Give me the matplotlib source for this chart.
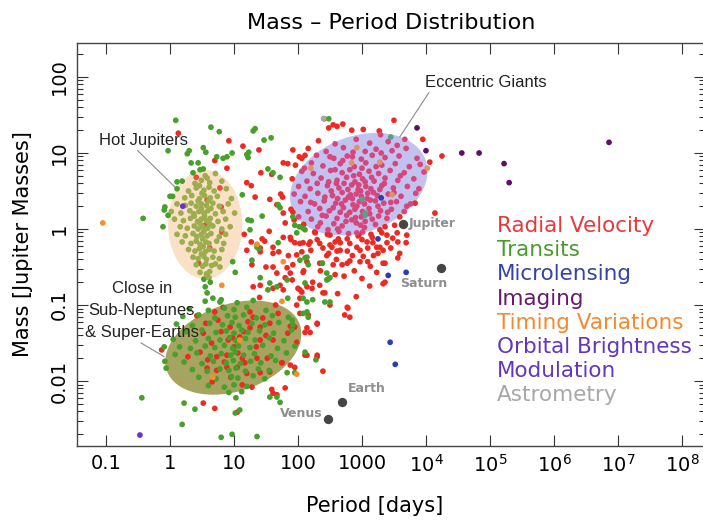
import numpy as np
import matplotlib
matplotlib.use("Agg")
import matplotlib.pyplot as plt
from matplotlib.patches import Ellipse
from matplotlib.transforms import IdentityTransform

plt.rcParams['font.family'] = ['DejaVu Sans']

# every point is (log10 period [days], log10 mass [Jupiter masses])
radial_velocity = [
    # eccentric giants and surroundings
    (2.41, 1.45), (2.48, 1.33), (2.55, 1.37), (2.61, 1.35), (2.70, 1.38), (2.84, 1.30), (3.02, 1.31),
    (3.27, 1.29), (3.29, 1.24), (3.50, 1.43), (3.67, 1.18), (3.95, 1.18), (4.25, 0.96), (4.06, 0.88),
    (3.83, 0.34), (4.14, 0.21), (1.92, 1.04), (2.11, 0.97), (2.06, 0.93), (1.77, 0.87), (1.84, 0.86),
    (1.56, 0.39), (1.73, 0.46), (1.76, 0.42),
    (2.32, 1.16), (2.58, 1.12), (2.91, 1.18), (3.12, 1.13), (3.41, 1.15),
    (2.16, 1.06), (2.44, 1.02), (2.71, 1.07), (2.86, 1.01), (3.22, 1.05), (3.47, 1.03), (3.69, 1.06),
    (2.02, 0.95), (2.29, 0.97), (2.56, 0.93), (2.77, 0.96), (2.99, 0.92), (3.16, 0.97), (3.36, 0.94),
    (3.58, 0.96), (3.86, 0.93),
    (1.96, 0.84), (2.21, 0.87), (2.39, 0.83), (2.66, 0.86), (2.88, 0.82), (3.06, 0.87), (3.31, 0.84),
    (3.52, 0.86), (3.74, 0.82), (3.91, 0.85),
    (2.06, 0.76), (2.24, 0.73), (2.51, 0.77), (2.69, 0.74), (2.81, 0.78), (2.96, 0.72), (3.11, 0.76),
    (3.26, 0.73), (3.44, 0.77), (3.66, 0.74), (3.97, 0.75),
    (1.91, 0.66), (2.14, 0.63), (2.36, 0.67), (2.61, 0.64), (2.76, 0.68), (2.89, 0.62), (3.01, 0.66),
    (3.19, 0.63), (3.36, 0.67), (3.56, 0.64), (3.81, 0.66),
    (2.01, 0.56), (2.19, 0.53), (2.46, 0.57), (2.64, 0.54), (2.84, 0.58), (2.94, 0.52), (3.06, 0.56),
    (3.14, 0.53), (3.31, 0.57), (3.49, 0.54), (3.71, 0.56), (3.89, 0.53),
    (1.94, 0.46), (2.11, 0.43), (2.31, 0.47), (2.54, 0.44), (2.69, 0.48), (2.79, 0.42), (2.91, 0.46),
    (2.99, 0.43), (3.09, 0.47), (3.24, 0.44), (3.41, 0.46), (3.61, 0.43), (3.84, 0.47),
    (2.04, 0.36), (2.26, 0.33), (2.41, 0.37), (2.59, 0.34), (2.74, 0.38), (2.86, 0.32), (2.96, 0.36),
    (3.04, 0.33), (3.21, 0.37), (3.34, 0.34), (3.54, 0.36), (3.76, 0.33),
    (1.89, 0.26), (2.16, 0.23), (2.34, 0.27), (2.49, 0.24), (2.71, 0.28), (2.81, 0.22), (2.89, 0.26),
    (3.01, 0.23), (3.11, 0.27), (3.29, 0.24), (3.46, 0.26), (3.66, 0.23),
    (2.01, 0.16), (2.21, 0.13), (2.44, 0.17), (2.61, 0.14), (2.76, 0.18), (2.84, 0.12), (2.99, 0.16),
    (3.16, 0.13), (3.26, 0.17), (3.39, 0.14), (3.59, 0.16),
    (2.09, 0.06), (2.31, 0.03), (2.56, 0.07), (2.69, 0.04), (2.91, 0.08), (3.04, 0.02), (3.21, 0.06),
    (3.36, 0.03), (3.51, 0.05),
    (2.26, -0.04), (2.46, -0.07), (2.64, -0.03), (2.79, -0.06), (3.01, -0.04), (3.14, -0.07), (3.31, -0.05),
    (2.85, 0.40), (2.92, 0.30), (3.08, 0.40), (2.78, 0.52), (3.18, 0.48), (2.72, 0.60), (3.05, 0.62),
    (2.95, 0.58), (2.62, 0.40), (2.66, 0.22), (3.12, 0.20), (2.52, 0.50), (3.28, 0.52), (2.87, 0.70),
    (2.58, 0.78), (3.22, 0.82), (2.48, 0.62), (2.38, 0.18), (2.98, 0.05), (3.45, 0.35),
    (2.55, 0.28), (2.68, 0.33), (2.82, 0.45), (2.98, 0.50), (3.13, 0.38), (3.25, 0.30), (2.90, 0.15),
    (3.05, 0.10), (2.75, 0.10), (2.60, 0.60), (2.70, 0.90), (3.00, 0.80), (3.15, 0.68), (3.35, 0.60),
    (3.50, 0.48), (3.40, 0.22), (2.42, 0.42), (2.30, 0.60), (2.20, 0.35), (2.35, 0.08), (3.60, 0.70),
    (3.70, 0.30), (2.85, 0.95), (3.05, 1.02), (2.50, 0.95), (3.30, 1.00), (3.55, 1.10), (2.10, 0.80),
    (2.62, 0.00), (2.95, -0.08),
    # warm giants and sub-Saturns
    (1.80, 0.08), (1.88, -0.11), (1.77, -0.11), (2.08, -0.18), (2.19, -0.17), (2.27, -0.05), (2.50, -0.08),
    (2.58, -0.17), (2.53, -0.24), (2.66, -0.28), (2.48, -0.32), (2.66, -0.18), (2.94, -0.09), (3.00, -0.14),
    (3.08, -0.17), (2.92, -0.24), (2.97, -0.28), (3.09, -0.25), (3.28, -0.01), (3.39, -0.08), (3.55, -0.05),
    (3.70, -0.08), (3.69, -0.18), (3.56, -0.17), (3.39, -0.18), (3.23, -0.24), (3.33, -0.28), (3.25, -0.32),
    (3.59, -0.32), (3.56, -0.38), (1.98, -0.34), (2.14, -0.43), (2.38, -0.45), (2.55, -0.47), (2.69, -0.47),
    (2.77, -0.45), (2.81, -0.42), (2.97, -0.43), (3.09, -0.43), (3.13, -0.49), (3.36, -0.45), (3.23, -0.57),
    (3.36, -0.70), (2.09, -0.55), (1.83, -0.51), (1.88, -0.58), (1.80, -0.64), (2.00, -0.78), (2.22, -0.78),
    (2.34, -0.74), (2.39, -0.84), (2.06, -0.83), (2.47, -0.66), (2.91, -0.89), (2.78, -1.04), (2.73, -1.13),
    (2.81, -1.16), (2.30, -1.25), (2.11, -1.36), (2.19, -1.36), (1.95, -1.29), (1.88, -1.28), (1.98, -1.49),
    (2.11, -1.66), (2.30, -1.66), (2.39, -1.87), (1.80, -2.09), (1.75, -1.76), (1.95, -1.82),
    (0.13, 1.26), (0.92, 1.16), (1.14, 1.09), (1.39, 1.04), (0.89, 0.80), (1.42, 0.74), (1.59, 0.72),
    (1.20, 0.61), (1.27, 0.57), (1.33, 0.42), (1.67, 0.32), (1.77, 0.21), (1.92, 0.22), (1.94, 0.12),
    (1.55, -0.03), (1.16, -0.07), (1.27, -0.17), (1.44, -0.13), (1.48, -0.16), (1.89, -0.14), (2.03, -0.19),
    (2.17, -0.20), (2.30, -0.14), (2.34, -0.19), (2.47, -0.01), (2.63, -0.13), (2.77, -0.13), (2.92, -0.05),
    (3.16, -0.11), (3.17, -0.18), (2.61, -0.29), (2.77, -0.29), (2.39, -0.25), (2.06, -0.30), (1.61, -0.32),
    (1.20, -0.28), (1.41, -0.30), (1.41, -0.25), (1.61, -0.24), (1.95, -0.18), (2.50, -0.21), (2.81, -0.19),
    (3.28, -0.24), (1.28, -0.47), (1.61, -0.50), (1.67, -0.58), (1.92, -0.47), (2.08, -0.57), (2.34, -0.45),
    (3.33, -0.45), (3.33, -0.72), (1.30, -0.76), (1.41, -0.74), (1.61, -0.78), (1.72, -0.74), (1.77, -0.80),
    (1.91, -0.67), (2.03, -0.80), (2.14, -0.76), (2.23, -0.70), (2.03, -0.91), (2.42, -0.84), (2.77, -1.03),
    (2.16, -1.13), (2.03, -1.11), (2.30, -1.24), (2.14, -1.30), (1.84, -1.37), (2.14, -1.66), (2.30, -1.68),
    (1.88, -1.79), (1.56, -1.88),
    (2.45, -0.35), (2.60, -0.40), (2.85, -0.35), (3.02, -0.36), (3.18, -0.35), (3.45, -0.25), (3.48, -0.12),
    (2.20, -0.28), (2.35, -0.55), (2.58, -0.60), (2.72, -0.62), (2.88, -0.55), (3.00, -0.65), (3.12, -0.75),
    (2.62, -0.85), (2.50, -1.00), (1.70, -0.30), (1.85, -0.35), (1.50, -0.50), (1.40, -0.90), (1.65, -1.00),
    (1.98, -1.00),
    # hot Jupiters
    (0.41, 0.68), (0.78, 0.54), (0.80, 0.29), (0.81, -0.04), (0.58, 0.38), (0.55, 0.05), (0.62, -0.25),
    (0.45, -0.45), (0.70, 0.90),
    # sub-Neptunes and super-Earths
    (0.42, -1.14), (0.56, -1.24), (0.52, -1.37), (0.70, -1.09), (0.83, -1.03), (1.25, -1.09), (1.22, -1.22),
    (1.25, -1.30), (1.30, -1.16), (0.94, -1.29), (0.91, -1.46), (0.98, -1.43), (1.09, -1.42), (1.41, -1.29),
    (1.45, -1.17), (1.56, -1.24), (1.69, -1.11), (1.61, -1.46), (1.41, -1.46), (0.47, -1.62), (0.28, -1.68),
    (0.59, -1.72), (0.73, -1.68), (0.89, -1.66), (1.06, -1.63), (1.13, -1.70), (1.17, -1.76), (1.36, -1.70),
    (1.52, -1.70), (0.89, -1.82), (1.05, -1.82), (0.73, -1.86), (0.58, -1.83), (0.66, -2.01), (1.28, -2.08),
    (1.41, -1.89), (1.75, -1.76), (-0.13, -1.59), (0.80, -1.35), (1.00, -1.55), (0.65, -1.50), (1.15, -1.35),
    (0.85, -1.75), (1.35, -1.55), (0.95, -1.95), (1.20, -1.90), (0.75, -1.20), (1.50, -1.40),
    (1.59, -2.11), (1.61, -2.16), (1.67, -2.18), (1.13, -2.05), (1.05, -2.41), (0.70, -2.36), (0.52, -2.29),
]

transits = [
    # hot Jupiters
    (0.36, 0.74), (0.55, 0.70), (0.71, 0.73), (0.47, 0.78),
    (0.19, 0.63), (0.39, 0.60), (0.49, 0.64), (0.62, 0.61), (0.81, 0.63), (0.58, 0.67),
    (0.11, 0.53), (0.29, 0.50), (0.41, 0.54), (0.53, 0.51), (0.61, 0.55), (0.69, 0.50), (0.88, 0.53), (0.46, 0.57),
    (0.04, 0.43), (0.23, 0.41), (0.34, 0.44), (0.46, 0.40), (0.54, 0.44), (0.63, 0.41), (0.74, 0.43),
    (0.96, 0.40), (0.50, 0.47),
    (0.11, 0.33), (0.24, 0.31), (0.33, 0.34), (0.41, 0.30), (0.49, 0.33), (0.57, 0.31), (0.67, 0.34),
    (0.77, 0.30), (0.91, 0.33), (0.44, 0.37), (0.60, 0.37),
    (0.02, 0.23), (0.17, 0.21), (0.31, 0.24), (0.37, 0.20), (0.45, 0.23), (0.53, 0.21), (0.59, 0.24),
    (0.71, 0.20), (0.83, 0.23), (1.01, 0.21), (0.49, 0.27), (0.64, 0.27),
    (0.07, 0.13), (0.21, 0.11), (0.32, 0.14), (0.43, 0.10), (0.49, 0.13), (0.57, 0.11), (0.63, 0.14),
    (0.75, 0.10), (0.87, 0.13), (0.38, 0.17), (0.54, 0.17),
    (0.16, 0.03), (0.27, 0.01), (0.38, 0.04), (0.44, 0.00), (0.51, 0.03), (0.59, 0.01), (0.67, 0.04),
    (0.81, 0.00), (0.94, 0.03), (0.47, 0.07), (0.62, 0.07),
    (0.11, -0.07), (0.24, -0.09), (0.36, -0.06), (0.42, -0.10), (0.49, -0.07), (0.58, -0.09), (0.64, -0.06),
    (0.77, -0.10), (0.87, -0.07), (0.53, -0.03),
    (0.19, -0.17), (0.33, -0.19), (0.41, -0.16), (0.47, -0.20), (0.56, -0.17), (0.61, -0.19), (0.73, -0.16),
    (0.84, -0.19), (0.51, -0.13),
    (0.29, -0.27), (0.39, -0.29), (0.46, -0.26), (0.55, -0.30), (0.61, -0.27), (0.69, -0.29), (0.81, -0.27),
    (0.52, -0.23),
    (0.36, -0.37), (0.44, -0.39), (0.53, -0.36), (0.57, -0.40), (0.67, -0.37), (0.77, -0.39), (0.49, -0.33),
    (0.41, -0.47), (0.51, -0.49), (0.56, -0.46), (0.65, -0.48), (0.71, -0.46),
    (0.47, -0.57), (0.57, -0.59), (0.62, -0.56), (0.53, -0.66), (0.61, -0.64),
    # scattered giants
    (0.09, 1.43), (0.64, 1.34), (0.77, 1.28), (1.30, 1.29), (1.33, 1.32), (1.58, 1.20), (1.47, 1.17),
    (-0.03, 1.03), (0.27, 0.99), (0.30, 1.03), (0.52, 1.07), (0.56, 1.01), (0.73, 0.95), (0.83, 0.93),
    (0.89, 0.95), (0.97, 1.00), (1.23, 1.01), (1.20, 0.98), (1.22, 0.94), (0.33, 0.87), (0.44, 0.87),
    (0.52, 0.79), (1.53, 0.79), (1.61, 0.74), (1.72, 0.68), (0.11, 0.62), (0.00, 0.43), (1.13, 0.45),
    (-0.08, 0.29), (-0.09, 0.25), (-0.42, 0.14), (-0.03, 0.18), (-0.11, 0.03), (1.44, 0.17), (1.22, 0.12),
    (1.27, 0.11), (1.69, 0.32), (1.72, 0.28), (2.02, 0.03), (2.11, -0.01), (1.69, -0.18), (1.39, -0.26),
    (1.25, -0.01), (1.36, -0.21), (2.48, 1.45), (3.45, 1.21), (3.05, 0.18), (3.00, 0.39), (3.05, 0.21),
    # warm sub-Saturns
    (1.92, 0.16), (1.95, 0.05), (2.08, 0.01), (1.98, -0.05), (2.03, -0.41), (2.11, -0.38), (2.38, -0.45),
    (2.45, -0.67), (2.50, -0.64), (1.83, -0.67), (1.84, -0.91), (2.08, -0.91), (2.14, -0.96), (2.23, -0.93),
    (2.42, -0.96), (2.50, -0.96), (2.08, -1.11), (2.16, -1.16), (1.91, -1.20), (1.92, -1.26), (2.11, -1.62),
    (2.28, -1.72), (1.83, -1.89), (1.95, -1.89),
    (1.36, -0.24), (1.28, -0.41), (0.98, -0.43), (1.02, -0.57), (0.78, -0.50), (0.58, -0.61), (0.63, -0.70),
    (0.55, -0.76), (0.58, -0.84), (0.67, -0.91), (0.78, -0.96), (1.56, -0.71), (1.41, -0.64), (1.53, -0.80),
    (1.67, -0.76), (2.11, -0.71), (2.16, -0.47), (2.14, -0.37), (2.45, -0.58), (2.14, -1.09),
    # sub-Neptunes and super-Earths
    (0.55, -0.95), (0.80, -0.93), (1.05, -0.97), (1.30, -0.94),
    (0.30, -1.05), (0.60, -1.07), (0.85, -1.04), (1.00, -1.06), (1.20, -1.03), (1.50, -1.07),
    (0.20, -1.15), (0.45, -1.13), (0.70, -1.17), (0.90, -1.14), (1.02, -1.16), (1.15, -1.13), (1.35, -1.17),
    (1.60, -1.14), (1.85, -1.16),
    (0.10, -1.25), (0.35, -1.27), (0.62, -1.24), (0.82, -1.26), (0.97, -1.23), (1.08, -1.27), (1.28, -1.24),
    (1.48, -1.26), (1.70, -1.23),
    (0.25, -1.35), (0.50, -1.33), (0.72, -1.36), (0.88, -1.34), (1.00, -1.37), (1.12, -1.33), (1.22, -1.36),
    (1.40, -1.34), (1.62, -1.37), (1.90, -1.33),
    (0.05, -1.45), (0.40, -1.47), (0.60, -1.44), (0.78, -1.46), (0.93, -1.43), (1.03, -1.47), (1.18, -1.44),
    (1.33, -1.46), (1.55, -1.43), (1.78, -1.47),
    (0.15, -1.55), (0.32, -1.57), (0.55, -1.54), (0.70, -1.56), (0.85, -1.53), (0.98, -1.57), (1.07, -1.54),
    (1.25, -1.56), (1.45, -1.53), (1.68, -1.57), (1.95, -1.54),
    (0.08, -1.65), (0.42, -1.63), (0.63, -1.67), (0.80, -1.64), (0.95, -1.66), (1.02, -1.62), (1.15, -1.66),
    (1.32, -1.64), (1.58, -1.67), (1.82, -1.63),
    (0.22, -1.75), (0.50, -1.77), (0.68, -1.74), (0.88, -1.76), (0.99, -1.73), (1.10, -1.77), (1.26, -1.74),
    (1.42, -1.76), (1.65, -1.73),
    (0.35, -1.85), (0.58, -1.87), (0.78, -1.84), (0.92, -1.86), (1.03, -1.83), (1.18, -1.87), (1.38, -1.84),
    (1.55, -1.86),
    (0.45, -1.95), (0.72, -1.97), (0.96, -1.94), (1.06, -1.96), (1.30, -1.93), (1.48, -1.97),
    (0.60, -2.06), (0.85, -2.08), (1.00, -2.05), (1.20, -2.07), (0.92, -2.15), (1.12, -2.14),
    (-0.09, -1.55), (-0.08, -1.74), (-0.06, -1.83),
    # small, long-ish period planets
    (-0.44, -2.22), (0.22, -2.29), (0.39, -2.37), (0.19, -2.57), (0.80, -2.74), (0.97, -2.70), (1.36, -2.73),
    (1.03, -2.22), (1.09, -2.38), (1.02, -2.42), (1.56, -2.21), (1.67, -2.21), (1.72, -2.28),
]

microlensing = [(3.25, -0.13), (3.41, -0.61), (3.69, -0.57), (3.44, -1.49), (3.52, -1.78), (3.30, 0.41)]
imaging = [(3.86, 1.33), (4.00, 1.03), (4.56, 1.00), (4.83, 1.00), (5.22, 0.86), (5.30, 0.61), (6.86, 1.14)]
timing = [(-1.05, 0.08), (1.36, -0.20), (0.81, -0.74), (1.77, -0.43), (1.75, -0.95), (1.09, -1.46),
          (0.67, -1.95), (1.98, -1.91), (2.84, 0.87), (3.28, 0.88), (3.47, 0.45), (4.02, 0.80),
          (2.92, 1.07), (2.20, 0.80)]
brightness = [(-0.47, -2.71), (0.20, 0.30)]
astrometry = [(2.39, 1.46)]

solar_names = ["Jupiter", "Saturn", "Earth", "Venus"]
solar_logp = [3.64, 4.23, 2.69, 2.47]
solar_logm = [0.07, -0.51, -2.28, -2.50]

legend_lines = ["Radial Velocity", "Transits", "Microlensing", "Imaging", "Timing Variations",
                "Orbital Brightness", "Modulation", "Astrometry"]
legend_colors = ["#e8383a", "#4a9a2c", "#3443a8", "#661a6a", "#f28a30", "#6236bd", "#6236bd", "#a8a8a8"]

x_ticks = [0.1, 1, 10, 100, 1000, 1e4, 1e5, 1e6, 1e7, 1e8]
x_labels = ["0.1", "1", "10", "100", "1000", "$10^4$", "$10^5$", "$10^6$", "$10^7$", "$10^8$"]
y_ticks = [0.01, 0.1, 1, 10, 100]
y_labels = ["0.01", "0.1", "1", "10", "100"]

fig = plt.figure(figsize=(7.03, 5.24), dpi=100)
ax = fig.add_axes([0.1095, 0.1489, 0.8933, 0.7691])
ax.set_xscale("log")
ax.set_yscale("log")
ax.set_xlim(0.0352, 2.29e8)
ax.set_ylim(0.0014, 280)


def region(logp, logm, a, b, angle, color):
    # sizes a, b are given in decades of the period axis
    dec = ax.transData.transform((10, 1))[0] - ax.transData.transform((1, 1))[0]
    cx, cy = ax.transData.transform((10 ** logp, 10 ** logm))
    e = Ellipse((cx, cy), 2 * a * dec, 2 * b * dec, angle=angle, transform=IdentityTransform(),
                facecolor=color, edgecolor="none", zorder=1)
    ax.add_patch(e)
    return e


hot = region(0.55, 0.06, 0.58, 0.85, 0, "#fae0c6")
ecc = region(2.95, 0.59, 1.11, 0.75, 20, "#c2c2f0")
small = region(0.99, -1.56, 1.10, 0.68, 19, "#a6a460")


def draw(points, color, tints=()):
    lp, lm = np.array(points, dtype=float).T
    p, m = 10 ** lp, 10 ** lm
    disp = ax.transData.transform(np.column_stack([p, m]))
    cols = [color] * len(p)
    for e, c in tints:
        inside = e.contains_points(disp)
        cols = [c if k else old for k, old in zip(inside, cols)]
    ax.scatter(p, m, s=17, c=cols, linewidths=0, zorder=2)


draw(radial_velocity, "#ec2a22", [(ecc, "#d8457c"), (hot, "#e4503a")])
draw(transits, "#47a02a", [(ecc, "#5a9e8c"), (hot, "#9bad4c")])
draw(microlensing, "#2a3db5")
draw(imaging, "#5e0f68")
draw(timing, "#f7902a", [(ecc, "#e0906a")])
draw(brightness, "#6a32c8")
draw(astrometry, "#a8a8a8")

sp, sm = 10 ** np.array(solar_logp), 10 ** np.array(solar_logm)
ax.scatter(sp, sm, s=45, c="#454545", linewidths=0, zorder=3)
offsets = {"Jupiter": ((4, 0), "left"), "Saturn": ((-12, -11), "center"),
           "Earth": ((4, 10), "left"), "Venus": ((-4, 4), "right")}
for name, x, y in zip(solar_names, sp, sm):
    off, ha = offsets[name]
    ax.annotate(name, (x, y), xytext=off, textcoords="offset points", ha=ha, va="center",
                fontsize=9, fontweight="bold", color="#8e8e8e", zorder=4)

note = dict(fontsize=12, color="#222222", family=["Liberation Sans", "DejaVu Sans"])
line = dict(arrowstyle="-", color="#8a8a8a", lw=0.8, shrinkA=0, shrinkB=0)
ax.annotate("Hot Jupiters", xy=(10 ** 0.08, 10 ** 0.55), xytext=(10 ** -1.11, 10 ** 1.17),
            ha="left", va="center", arrowprops=dict(line, relpos=(0.4, 0.0)), **note)
ax.annotate("Eccentric Giants", xy=(10 ** 3.59, 10 ** 1.21), xytext=(10 ** 3.98, 10 ** 1.93),
            ha="left", va="center", arrowprops=dict(line, relpos=(0.05, 0.0)), **note)
ax.annotate("Close in\nSub-Neptunes\n& Super-Earths", xy=(10 ** -0.09, 10 ** -1.68),
            xytext=(10 ** -0.44, 10 ** -1.07), ha="center", va="center", multialignment="center",
            linespacing=1.6, arrowprops=dict(line, relpos=(0.45, 0.0)), **note)

for i, (txt, col) in enumerate(zip(legend_lines, legend_colors)):
    fig.text(497 / 703, 1 - (226 + 24.2 * i) / 524, txt, color=col, fontsize=15.5, va="center")

ax.set_xticks(x_ticks)
ax.set_xticklabels(x_labels)
ax.set_yticks(y_ticks)
ax.set_yticklabels(y_labels, rotation=90, va="center")
ax.tick_params(which="both", direction="in", top=True, right=True, color="#333333", width=0.8)
ax.tick_params(which="major", length=8, labelsize=14, pad=6)
ax.tick_params(which="minor", length=4)
for s in ax.spines.values():
    s.set_color("#444444")
    s.set_linewidth(1.0)

ax.set_title("Mass \u2013 Period Distribution", fontsize=16, pad=10)
ax.set_xlabel("Period [days]", fontsize=15, labelpad=8)
ax.set_ylabel("Mass [Jupiter Masses]", fontsize=15, labelpad=12)
ax.xaxis.set_label_coords((375 - 77) / 628, -0.125)

fig.savefig("out.png", dpi=100)
